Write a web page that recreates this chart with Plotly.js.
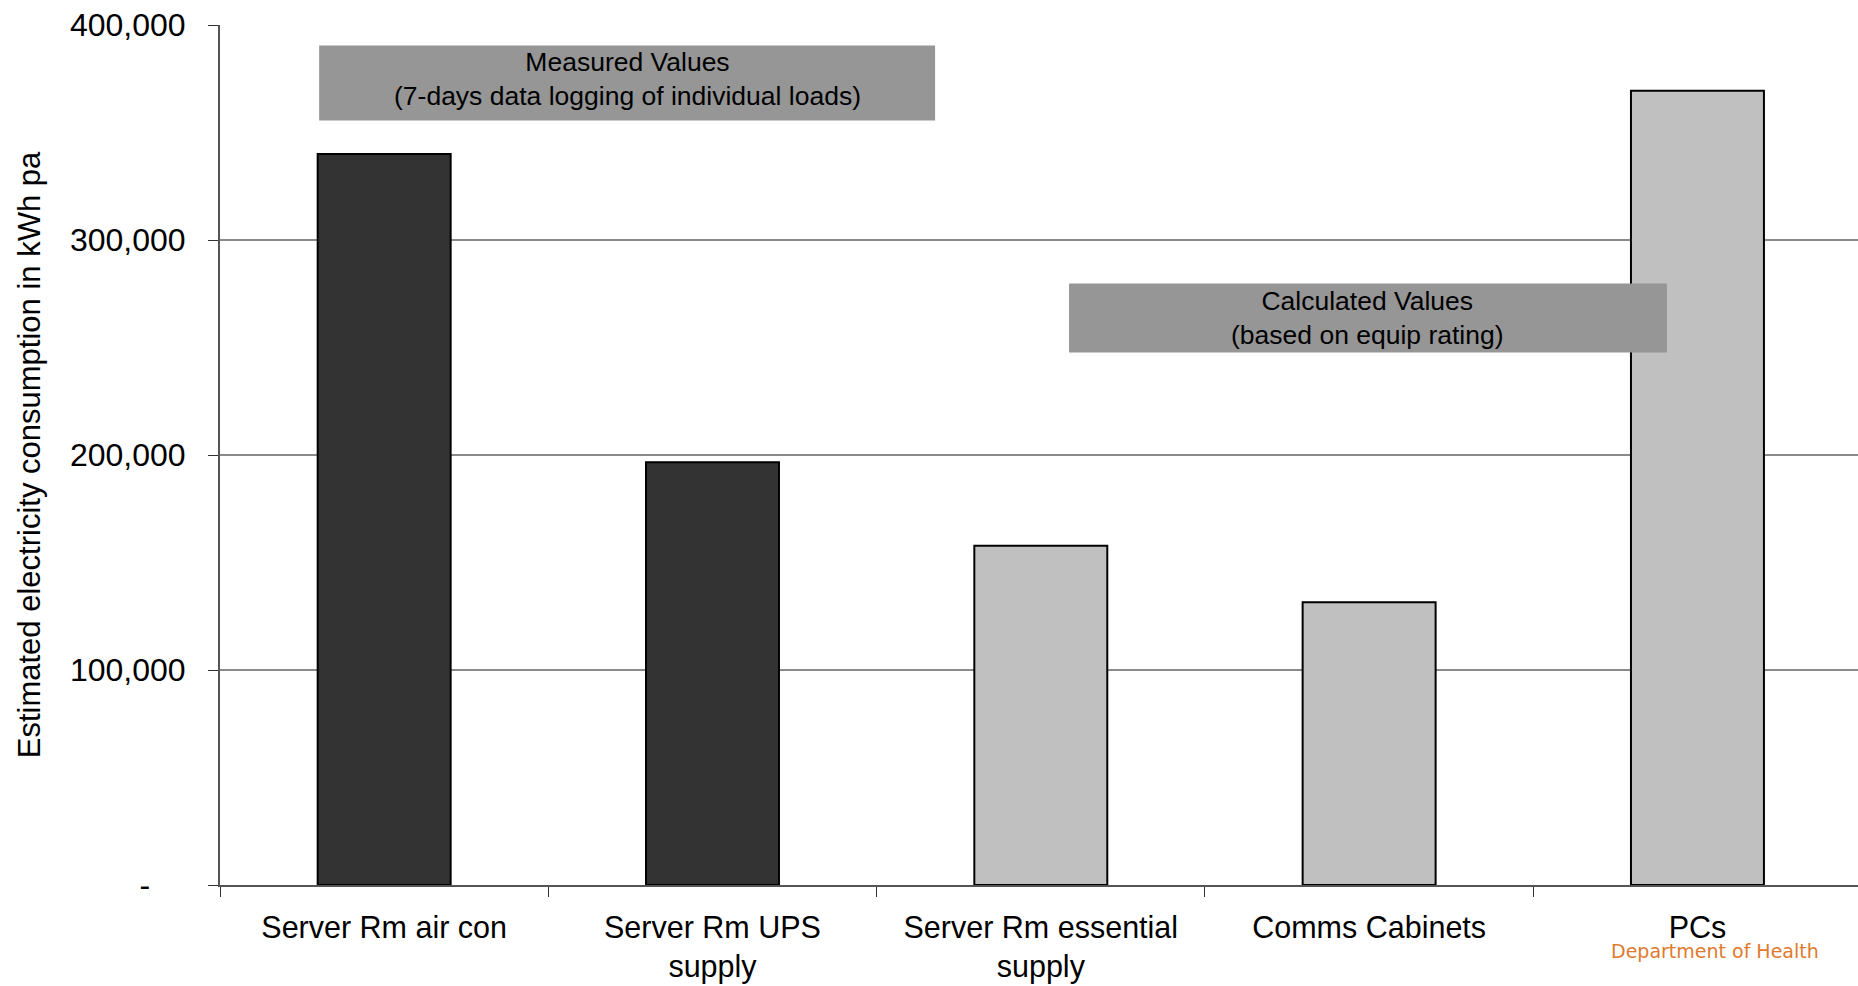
<!DOCTYPE html>
<html>
<head>
<meta charset="utf-8">
<script src="https://cdn.plot.ly/plotly-3.0.1.min.js"></script>
<style>html,body{margin:0;padding:0;background:#fff;}#chart{width:1858px;height:986px;}</style>
</head>
<body>
<div id="chart"></div>
<script>
const categories = ["Server Rm air con", "Server Rm UPS<br>supply", "Server Rm essential<br>supply", "Comms Cabinets", "PCs"];
const values = [340000, 196600, 157800, 131500, 369400];
const barColors = ["#333333", "#333333", "#c0c0c0", "#c0c0c0", "#c0c0c0"];
const yTickVals = [0, 100000, 200000, 300000, 400000];
const yTickText = ["-\u00a0\u00a0\u00a0\u00a0", "100,000", "200,000", "300,000", "400,000"];
const yTitle = "Estimated electricity consumption in kWh pa";
const noteMeasured = "Measured Values<br>(7-days data logging of individual loads)";
const noteCalculated = "Calculated Values<br>(based on equip rating)";
const sourceText = "Department of Health";

const FONT = "Liberation Sans, Arial, sans-serif";

const trace = {
  type: "bar",
  x: categories,
  y: values,
  width: 0.405,
  marker: {color: barColors, line: {color: "#000000", width: 2}},
  hoverinfo: "x+y"
};

const layout = {
  width: 1858, height: 986,
  margin: {l: 220, r: 0, t: 25, b: 101, pad: 0},
  paper_bgcolor: "#ffffff", plot_bgcolor: "#ffffff",
  showlegend: false,
  font: {family: FONT, color: "#000000", size: 31},
  xaxis: {
    type: "category",
    range: [-0.5, 4.489],
    tickson: "boundaries",
    ticks: "outside", ticklen: 10, tickcolor: "#333333", tickwidth: 1,
    showline: true, linecolor: "#555555", linewidth: 2,
    showgrid: false, zeroline: false,
    tickfont: {family: FONT, size: 30.5, color: "#000000"},
    ticklabelstandoff: 14,
    fixedrange: true
  },
  yaxis: {
    range: [0, 400000],
    tickvals: yTickVals, ticktext: yTickText,
    ticks: "outside", ticklen: 10, tickcolor: "#333333", tickwidth: 1,
    showline: true, linecolor: "#555555", linewidth: 2,
    showgrid: true, gridcolor: "#8a8a8a", gridwidth: 1.3,
    zeroline: false,
    tickfont: {family: FONT, size: 32, color: "#000000"},
    ticklabelstandoff: 16,
    title: {text: yTitle, font: {family: FONT, size: 31, color: "#000000"}, standoff: 20},
    fixedrange: true
  },
  shapes: [
    {type: "rect", xref: "x", yref: "y", x0: -0.198, x1: 1.678, y0: 355600, y1: 390500,
     fillcolor: "#969696", line: {width: 0}, layer: "above"},
    {type: "rect", xref: "x", yref: "y", x0: 2.086, x1: 3.907, y0: 247700, y1: 279800,
     fillcolor: "#969696", line: {width: 0}, layer: "above"}
  ],
  annotations: [
    {xref: "x", yref: "y", x: 0.74, y: 374950, text: noteMeasured, showarrow: false,
     font: {family: FONT, size: 26.5, color: "#000000"}, align: "center"},
    {xref: "x", yref: "y", x: 2.9965, y: 263750, text: noteCalculated, showarrow: false,
     font: {family: FONT, size: 26.5, color: "#000000"}, align: "center"},
    {xref: "paper", yref: "paper", x: 0.9775, y: -0.0765, xanchor: "right", yanchor: "middle",
     text: sourceText, showarrow: false,
     font: {family: "DejaVu Sans, sans-serif", size: 19, color: "#e07a2e"}}
  ]
};

Plotly.newPlot("chart", [trace], layout, {displayModeBar: false, staticPlot: true});
</script>
</body>
</html>
